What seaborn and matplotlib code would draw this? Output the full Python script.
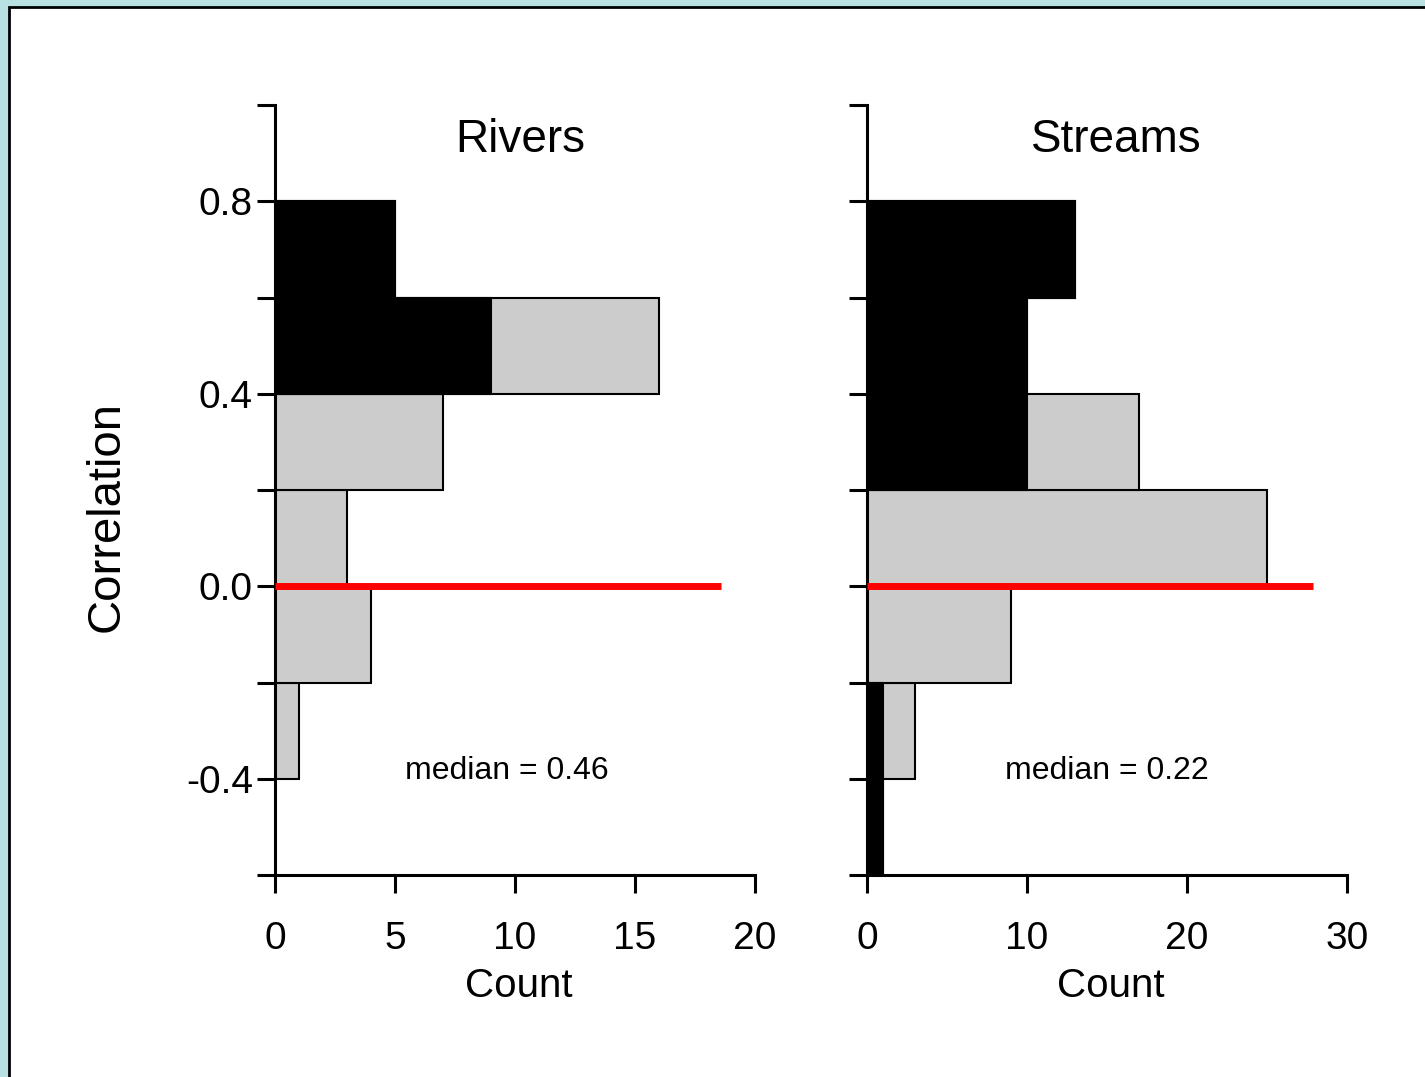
import matplotlib
matplotlib.use("Agg")
import matplotlib.pyplot as plt
from matplotlib.patches import Rectangle
import numpy as np
import seaborn as sns

# ---- data ----
bin_edges = [-0.6, -0.4, -0.2, 0.0, 0.2, 0.4, 0.6, 0.8]
bin_mids = [-0.5, -0.3, -0.1, 0.1, 0.3, 0.5, 0.7]
rivers_total = [0, 1, 4, 3, 7, 16, 5]
rivers_sig = [0, 0, 0, 0, 0, 9, 5]
streams_total = [1, 3, 9, 25, 17, 10, 13]
streams_sig = [1, 1, 0, 0, 10, 10, 13]
panel_titles = ["Rivers", "Streams"]
medians = ["median = 0.46", "median = 0.22"]
x_limits = [20, 30]
x_ticks = [[0, 5, 10, 15, 20], [0, 10, 20, 30]]
y_major = [-0.4, 0.0, 0.4, 0.8]
y_major_labels = ["-0.4", "0.0", "0.4", "0.8"]
y_minor = [-0.6, -0.2, 0.2, 0.6, 1.0]

sns.set_style("ticks")
plt.rcParams["font.family"] = ["Liberation Sans", "DejaVu Sans"]
plt.rcParams.update({
    "text.color": "black",
    "axes.labelcolor": "black",
    "xtick.color": "black",
    "ytick.color": "black",
    "axes.edgecolor": "black",
})

W, H = 1425, 1077
fig = plt.figure(figsize=(W / 100, H / 100), dpi=100)
fig.patch.set_facecolor("#b9e0e3")
fig.patches.append(Rectangle((9 / W, -1), 2, 1 + (1 - 7 / H), transform=fig.transFigure,
                             facecolor="white", edgecolor="black", linewidth=2, zorder=-10))

ax_w = 480 / W
ax_h = 770 / H
ax_b = 1 - 875 / H
axes = [fig.add_axes([275 / W, ax_b, ax_w, ax_h]),
        fig.add_axes([867 / W, ax_b, ax_w, ax_h])]

data = [(rivers_total, rivers_sig), (streams_total, streams_sig)]
title_x = [0.51, 0.519]
med_x = [0.483, 0.5]

for i, ax in enumerate(axes):
    total, sig = data[i]
    ax.set_facecolor("none")
    sns.histplot(y=bin_mids, weights=total, bins=bin_edges, ax=ax, color="#cccccc",
                 edgecolor="black", linewidth=1.5, alpha=1)
    sns.histplot(y=bin_mids, weights=sig, bins=bin_edges, ax=ax, color="black",
                 edgecolor="black", linewidth=1.5, alpha=1)
    ax.axhline(0, xmin=0, xmax=0.93, color="red", linewidth=5, zorder=5,
               solid_capstyle="butt")
    ax.set_xlim(0, x_limits[i])
    ax.set_ylim(-0.6, 1.0)
    ax.set_xticks(x_ticks[i])
    ax.set_xticklabels([str(t) for t in x_ticks[i]])
    ax.set_yticks(y_major)
    ax.set_yticks(y_minor, minor=True)
    if i == 0:
        ax.set_yticklabels(y_major_labels)
        ax.set_ylabel("Correlation", fontsize=34)
        ax.yaxis.set_label_coords(-0.304, 0.465)
    else:
        ax.set_yticklabels([])
        ax.set_ylabel("")
    ax.set_xlabel("Count", fontsize=29)
    ax.xaxis.set_label_coords(0.508, -0.119)
    for s in ["top", "right"]:
        ax.spines[s].set_visible(False)
    for s in ["left", "bottom"]:
        ax.spines[s].set_linewidth(2.2)
    ax.tick_params(axis="both", which="both", length=13, width=2.2, direction="out",
                   labelsize=28, color="black", labelcolor="black")
    ax.tick_params(axis="y", pad=3)
    ax.tick_params(axis="x", pad=20)
    ax.text(title_x[i], 0.955, panel_titles[i], transform=ax.transAxes,
            ha="center", va="center", fontsize=33)
    ax.text(med_x[i], 0.135, medians[i], transform=ax.transAxes,
            ha="center", va="center", fontsize=23)

fig.savefig("out.png", dpi=100, facecolor=fig.get_facecolor())
